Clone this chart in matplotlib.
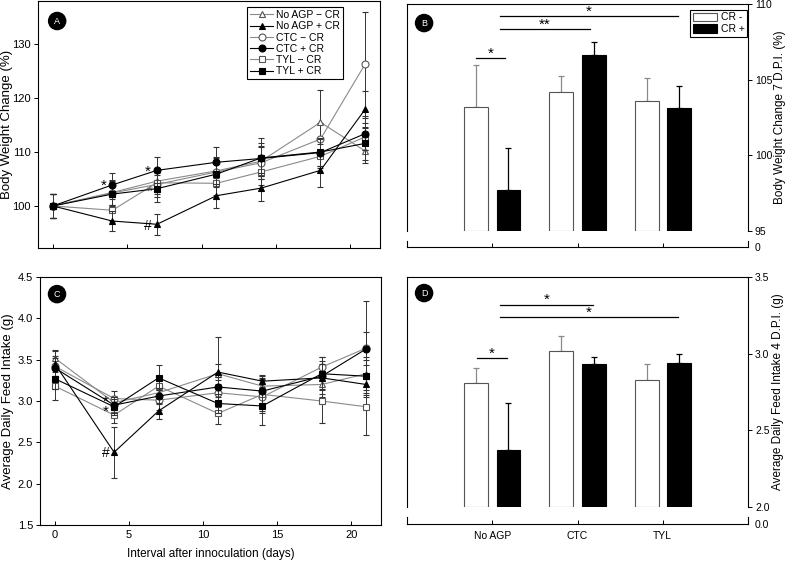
import numpy as np
from matplotlib import pyplot as plt
from matplotlib.lines import Line2D

plt.rcParams['font.family'] = ['Liberation Sans', 'DejaVu Sans']

days = [0, 4, 7, 11, 14, 18, 21]
series_names = ['No AGP \u2212 CR', 'No AGP + CR', 'CTC \u2212 CR', 'CTC + CR', 'TYL \u2212 CR', 'TYL + CR']

# panel A: body weight change (%)
bw_noagp_m = [100, 102.5, 104.6, 106.5, 108.3, 115.5, 110.2]
bw_noagp_m_err = [2.2, 2.3, 2.4, 2.6, 2.8, 6.0, 2.2]
bw_noagp_p = [100, 97.2, 96.6, 101.9, 103.3, 106.6, 117.9]
bw_noagp_p_err = [2.2, 1.9, 1.9, 2.2, 2.3, 3.0, 3.4]
bw_ctc_m = [100, 102.4, 104.0, 106.3, 108.0, 112.4, 126.3]
bw_ctc_m_err = [2.2, 2.2, 2.4, 2.5, 3.0, 3.0, 9.6]
bw_ctc_p = [100, 103.9, 106.6, 108.1, 108.8, 109.9, 113.4]
bw_ctc_p_err = [2.2, 2.3, 2.4, 2.9, 3.8, 2.5, 3.0]
bw_tyl_m = [100, 99.2, 104.3, 104.2, 106.3, 109.2, 112.8]
bw_tyl_m_err = [2.2, 2.0, 1.8, 2.2, 2.5, 2.2, 2.5]
bw_tyl_p = [100, 102.2, 103.2, 105.9, 108.9, 110.0, 111.6]
bw_tyl_p_err = [2.2, 2.2, 2.5, 2.4, 2.8, 2.6, 3.0]

# panel C: average daily feed intake (g)
fi_noagp_m = [3.52, 2.98, 3.10, 3.33, 3.18, 3.20, 3.33]
fi_noagp_m_err = [0.10, 0.08, 0.10, 0.12, 0.12, 0.15, 0.20]
fi_noagp_p = [3.45, 2.38, 2.88, 3.35, 3.24, 3.28, 3.20]
fi_noagp_p_err = [0.15, 0.31, 0.10, 0.42, 0.08, 0.20, 0.13]
fi_ctc_m = [3.42, 3.03, 3.01, 3.10, 3.05, 3.41, 3.64]
fi_ctc_m_err = [0.12, 0.09, 0.12, 0.15, 0.20, 0.12, 0.20]
fi_ctc_p = [3.40, 2.95, 3.06, 3.17, 3.12, 3.30, 3.63]
fi_ctc_p_err = [0.12, 0.10, 0.10, 0.12, 0.15, 0.15, 0.58]
fi_tyl_m = [3.18, 2.83, 3.18, 2.85, 3.08, 3.00, 2.93]
fi_tyl_m_err = [0.17, 0.10, 0.12, 0.13, 0.20, 0.26, 0.34]
fi_tyl_p = [3.27, 2.93, 3.28, 2.97, 2.94, 3.33, 3.30]
fi_tyl_p_err = [0.12, 0.10, 0.15, 0.12, 0.23, 0.20, 0.20]

# panels B and D: bar charts
groups = ['No AGP', 'CTC', 'TYL']
bw7_minus = [103.2, 104.2, 103.6]
bw7_minus_err = [2.8, 1.05, 1.5]
bw7_plus = [97.7, 106.6, 103.1]
bw7_plus_err = [2.8, 0.9, 1.5]
fi4_minus = [2.81, 3.02, 2.83]
fi4_minus_err = [0.094, 0.092, 0.10]
fi4_plus = [2.37, 2.93, 2.94]
fi4_plus_err = [0.31, 0.05, 0.06]

GRAY = '#8a8a8a'
EDGE = '#555555'

styles = [
    dict(marker='^', color=GRAY, mfc='white', mec=EDGE),
    dict(marker='^', color='black', mfc='black', mec='black'),
    dict(marker='o', color=GRAY, mfc='white', mec=EDGE),
    dict(marker='o', color='black', mfc='black', mec='black'),
    dict(marker='s', color=GRAY, mfc='white', mec=EDGE),
    dict(marker='s', color='black', mfc='black', mec='black'),
]


def panel_label(ax, letter, x, y):
    ax.text(x, y, letter, transform=ax.transAxes, ha='center', va='center',
            color='white', fontsize=6.5, zorder=20,
            bbox=dict(boxstyle='circle,pad=0.45', fc='black', ec='black'))


def star(ax, x, y, lab='*', color='black', **kw):
    ax.text(x, y, lab, ha='center', va='center', fontsize=11, color=color, zorder=10, **kw)


def line_panel(ax, data):
    for i, (m, e) in enumerate(data):
        st = styles[i]
        z = 4 if st['color'] == 'black' else 3
        ax.errorbar(days, m, yerr=e, color=st['color'], ecolor='#333333', elinewidth=0.7,
                    capsize=2.3, capthick=0.7, lw=0.8, marker=st['marker'], ms=5,
                    mfc=st['mfc'], mec=st['mec'], mew=0.8, zorder=z)
    ax.set_xlim(-1, 22)
    ax.set_xticks([0, 5, 10, 15, 20])
    ax.tick_params(axis='x', direction='in', length=3, width=0.7)
    ax.tick_params(axis='y', direction='out', length=3, width=0.7, pad=2)
    ax.tick_params(labelsize=8)
    for s in ax.spines.values():
        s.set_linewidth(0.8)


def bar_panel(ax, ax_lo, minus, minus_err, plus, plus_err, ylim, yticks, lo_label, ylabel, show_names):
    x = np.arange(len(groups))
    w = 0.28
    ax.bar(x - 0.19, np.array(minus) - ylim[0], w, bottom=ylim[0], color='white',
           edgecolor=EDGE, lw=0.8, label='CR -', zorder=3)
    ax.errorbar(x - 0.19, minus, yerr=[np.zeros(3), minus_err], fmt='none', ecolor=GRAY,
                elinewidth=0.9, capsize=2.5, capthick=0.9, zorder=2)
    ax.bar(x + 0.19, np.array(plus) - ylim[0], w, bottom=ylim[0], color='black',
           edgecolor='black', lw=0.8, label='CR +', zorder=3)
    ax.errorbar(x + 0.19, plus, yerr=[np.zeros(3), plus_err], fmt='none', ecolor='black',
                elinewidth=0.9, capsize=2.5, capthick=0.9, zorder=2)
    ax.set_xlim(-1, 3)
    ax.set_ylim(*ylim)
    ax.set_xticks([])
    ax.yaxis.tick_right()
    ax.yaxis.set_label_position('right')
    ax.set_yticks(yticks)
    ax.tick_params(axis='y', direction='out', length=3, width=0.7, labelsize=7.5, pad=2)
    ax.spines['bottom'].set_visible(False)
    for s in ax.spines.values():
        s.set_linewidth(0.8)
    ax.set_ylabel(ylabel, fontsize=8.5)
    ax.yaxis.set_label_coords(1.075, 0.5)

    ax_lo.set_xlim(-1, 3)
    ax_lo.set_ylim(0, 1)
    ax_lo.set_xticks(x)
    ax_lo.set_xticklabels(groups if show_names else [])
    ax_lo.tick_params(axis='x', direction='in', length=3, width=0.7, labelsize=7.5, pad=5)
    ax_lo.yaxis.tick_right()
    ax_lo.set_yticks([0])
    ax_lo.set_yticklabels([lo_label])
    ax_lo.tick_params(axis='y', direction='out', length=0, labelsize=7.5, pad=5)
    ax_lo.spines['top'].set_visible(False)
    ax_lo.patch.set_visible(False)
    for s in ax_lo.spines.values():
        s.set_linewidth(0.8)


fig = plt.figure(figsize=(7.87, 5.62), dpi=100)

# panel A
axA = fig.add_axes([0.0483, 0.5587, 0.4345, 0.4395])
line_panel(axA, [(bw_noagp_m, bw_noagp_m_err), (bw_noagp_p, bw_noagp_p_err),
                 (bw_ctc_m, bw_ctc_m_err), (bw_ctc_p, bw_ctc_p_err),
                 (bw_tyl_m, bw_tyl_m_err), (bw_tyl_p, bw_tyl_p_err)])
axA.set_ylim(92.2, 138)
axA.set_yticks([100, 110, 120, 130])
axA.set_xticklabels([])
axA.set_ylabel('Body Weight Change (%)', fontsize=9.5)
axA.yaxis.set_label_coords(-0.072, 0.5)
star(axA, 3.45, 103.7)
star(axA, 6.4, 106.3)
star(axA, 6.5, 102.6, color='#555555')
axA.text(6.4, 96.3, '#', ha='center', va='center', fontsize=10)
handles = [Line2D([], [], color=st['color'], lw=0.8, marker=st['marker'], ms=5,
                  mfc=st['mfc'], mec=st['mec'], mew=0.8) for st in styles]
leg = axA.legend(handles, series_names, loc='upper left', bbox_to_anchor=(0.611, 0.976),
                 fontsize=7.5, frameon=True, fancybox=False, edgecolor='black', framealpha=1,
                 borderaxespad=0, labelspacing=0.12, handlelength=2.2, handletextpad=0.3,
                 borderpad=0.3)
leg.get_frame().set_linewidth(0.8)
panel_label(axA, 'A', 0.056, 0.919)

# panel C
axC = fig.add_axes([0.0508, 0.0658, 0.4333, 0.4413])
line_panel(axC, [(fi_noagp_m, fi_noagp_m_err), (fi_noagp_p, fi_noagp_p_err),
                 (fi_ctc_m, fi_ctc_m_err), (fi_ctc_p, fi_ctc_p_err),
                 (fi_tyl_m, fi_tyl_m_err), (fi_tyl_p, fi_tyl_p_err)])
axC.set_ylim(1.5, 4.5)
axC.set_yticks(np.arange(1.5, 4.51, 0.5))
axC.set_yticklabels(['%.1f' % v for v in np.arange(1.5, 4.51, 0.5)])
axC.set_ylabel('Average Daily Feed Intake (g)', fontsize=9.5)
axC.yaxis.set_label_coords(-0.077, 0.5)
axC.set_xlabel('Interval after innoculation (days)', fontsize=8.5, labelpad=6)
star(axC, 3.45, 2.93, '*\n*', linespacing=0.55)
axC.text(3.45, 2.37, '#', ha='center', va='center', fontsize=10)
panel_label(axC, 'C', 0.05, 0.931)

# panel B
axB = fig.add_axes([0.5172, 0.589, 0.4333, 0.4039])
axB_lo = fig.add_axes([0.5172, 0.5605, 0.4333, 0.011])
bar_panel(axB, axB_lo, bw7_minus, bw7_minus_err, bw7_plus, bw7_plus_err, (95, 110),
          [95, 100, 105, 110], '0', 'Body Weight Change 7 D.P.I. (%)', False)
for (x0, x1, y, lab) in [(-0.19, 0.15, 106.4, '*'), (0.09, 1.15, 108.35, '**'), (0.09, 2.18, 109.2, '*')]:
    axB.plot([x0, x1], [y, y], color='black', lw=0.9)
    star(axB, (x0 + x1) / 2, y + 0.3, lab)
legB = axB.legend(loc='upper left', bbox_to_anchor=(0.83, 0.974), fontsize=7.5, fancybox=False,
                  edgecolor='black', framealpha=1, borderaxespad=0, labelspacing=0.15,
                  handlelength=2.3, handleheight=0.9, handletextpad=0.4, borderpad=0.25)
legB.get_frame().set_linewidth(0.8)
panel_label(axB, 'B', 0.05, 0.916)

# panel D
axD = fig.add_axes([0.5172, 0.0979, 0.4333, 0.4093])
axD_lo = fig.add_axes([0.5172, 0.0676, 0.4333, 0.012])
bar_panel(axD, axD_lo, fi4_minus, fi4_minus_err, fi4_plus, fi4_plus_err, (2.0, 3.5),
          [2.0, 2.5, 3.0, 3.5], '0.0', 'Average Daily Feed Intake 4 D.P.I. (g)', True)
axD.set_yticklabels(['2.0', '2.5', '3.0', '3.5'])
axD.yaxis.set_label_coords(1.07, 0.5)
for (x0, x1, y, lab) in [(-0.18, 0.17, 2.97, '*'), (0.09, 1.18, 3.32, '*'), (0.09, 2.18, 3.236, '*')]:
    axD.plot([x0, x1], [y, y], color='black', lw=0.9)
    star(axD, (x0 + x1) / 2, y + 0.03, lab)
panel_label(axD, 'D', 0.05, 0.93)

fig.savefig('out.png', dpi=100)
